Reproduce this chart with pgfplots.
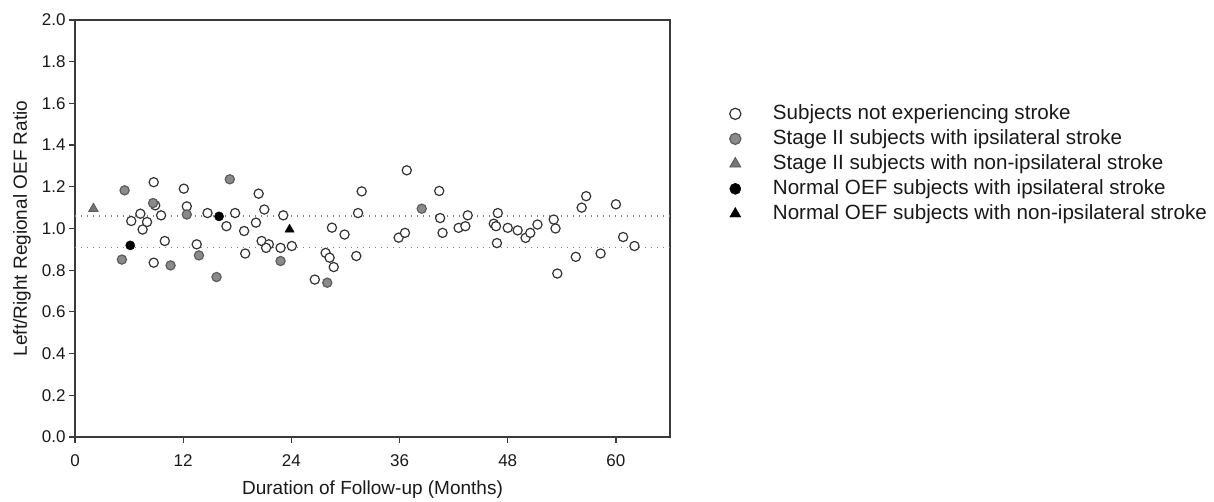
\documentclass[border=0pt]{standalone}
\usepackage{fontspec}
\setmainfont{Liberation Sans}
\usepackage{pgfplots}
\pgfplotsset{compat=1.18}
\definecolor{axisgray}{HTML}{3A3A3A}
\definecolor{dotgray}{HTML}{808080}
\definecolor{stagegray}{HTML}{8A8A8A}
\definecolor{edgegray}{HTML}{333333}

\begin{document}
\begin{tikzpicture}[x=1bp,y=1bp]
\useasboundingbox (0,0) rectangle (1214,502);
\begin{axis}[
  at={(75bp,65bp)}, anchor=south west,
  scale only axis, width=595bp, height=417bp,
  xmin=0, xmax=66, ymin=0, ymax=2,
  xtick={0,12,24,36,48,60},
  ytick={0,0.2,0.4,0.6,0.8,1.0,1.2,1.4,1.6,1.8,2.0},
  yticklabel style={/pgf/number format/.cd,fixed,fixed zerofill,precision=1},
  xticklabel style={yshift=-8bp},
  /pgf/number format/assume math mode=true,
  tick label style={font=\fontsize{17bp}{20bp}\selectfont, text=black!90},
  xtick pos=left, ytick pos=left, tick align=outside,
  major tick length=6bp,
  axis line style={axisgray, line width=1.3bp},
  every tick/.style={axisgray, line width=1.2bp},
  xlabel={Duration of Follow-up (Months)},
  ylabel={Left/Right Regional OEF Ratio},
  label style={font=\fontsize{19bp}{22bp}\selectfont, text=black!90},
  xlabel style={at={(axis description cs:0.5,-0.127)}, anchor=center},
  ylabel style={at={(axis description cs:-0.089,0.5)}, anchor=center},
  legend style={at={(axis description cs:1.1,0.803)}, anchor=north west,
    draw=none, fill=none, inner sep=0pt, row sep=2bp,
    font=\fontsize{20.6bp}{24bp}\selectfont,
    /tikz/every odd column/.append style={column sep=30bp},
    nodes={inner sep=2bp, text height=15bp, text depth=4bp, text=black!90}},
  legend cell align=left,
  legend image code/.code={\draw[#1] plot coordinates {(0bp,0bp)};},
]
\addplot[dotgray, line width=1.4bp, dash pattern=on 1.4bp off 4.6bp, forget plot] coordinates {(0,1.06) (66,1.06)};
\addplot[dotgray, line width=1.4bp, dash pattern=on 1.4bp off 4.6bp, forget plot] coordinates {(0,0.91) (66,0.91)};

\addplot[only marks, mark=*, mark size=4.6bp, mark options={draw=edgegray, fill=white, line width=1.2bp},
  legend image post style={mark size=5.6bp}] coordinates {
(6.24,1.036) (7.25,1.071) (7.99,1.031) (7.5,0.995) (8.73,1.222) (8.9,1.111) (9.55,1.063) (8.73,0.836) (9.96,0.94)
(12.07,1.191) (12.4,1.106) (13.5,0.924) (14.7,1.074) (16.8,1.011) (17.76,1.074) (18.76,0.988) (18.88,0.88)
(20.37,1.167) (21.0,1.091) (20.07,1.028) (20.7,0.94) (21.5,0.924) (21.2,0.907) (23.1,1.063) (22.8,0.907) (24.05,0.916)
(26.6,0.755) (27.8,0.883) (28.24,0.86) (28.7,0.815) (28.5,1.004) (29.9,0.971) (31.2,0.868) (31.4,1.074) (31.8,1.178)
(35.9,0.956) (36.6,0.979) (36.8,1.279) (40.4,1.18) (40.5,1.05) (40.77,0.979) (42.55,1.003) (43.3,1.011) (43.56,1.063)
(46.45,1.023) (46.9,1.074) (46.7,1.011) (46.8,0.93) (48.0,1.003) (49.1,0.991) (49.98,0.955) (50.5,0.979) (51.3,1.019)
(53.1,1.043) (53.3,1.0) (53.5,0.784) (55.55,0.864) (56.2,1.1) (56.7,1.155) (58.3,0.88) (60.0,1.116) (60.8,0.959) (62.06,0.916)
};
\addlegendentry{Subjects not experiencing stroke}

\addplot[only marks, mark=*, mark size=4.6bp, mark options={draw=edgegray!80, fill=stagegray, line width=1.2bp},
  legend image post style={mark size=5.6bp}] coordinates {
(5.5,1.183) (8.66,1.122) (5.2,0.851) (10.6,0.823) (12.4,1.067) (13.75,0.871) (15.7,0.767) (17.17,1.236)
(22.8,0.844) (27.98,0.74) (38.46,1.095)
};
\addlegendentry{Stage II subjects with ipsilateral stroke}

\addplot[only marks, mark=triangle*, mark size=5.4bp, mark options={draw=edgegray!80, fill=stagegray!85!black, line width=0.8bp},
  legend image post style={mark size=6.4bp}] coordinates {
(2.04,1.095)
};
\addlegendentry{Stage II subjects with non-ipsilateral stroke}

\addplot[only marks, mark=*, mark size=4.6bp, mark options={draw=black, fill=black},
  legend image post style={mark size=5.6bp}] coordinates {
(6.13,0.919) (15.98,1.058)
};
\addlegendentry{Normal OEF subjects with ipsilateral stroke}

\addplot[only marks, mark=triangle*, mark size=5.4bp, mark options={draw=black, fill=black},
  legend image post style={mark size=6.4bp}] coordinates {
(23.8,0.995)
};
\addlegendentry{Normal OEF subjects with non-ipsilateral stroke}
\end{axis}
\end{tikzpicture}
\end{document}
